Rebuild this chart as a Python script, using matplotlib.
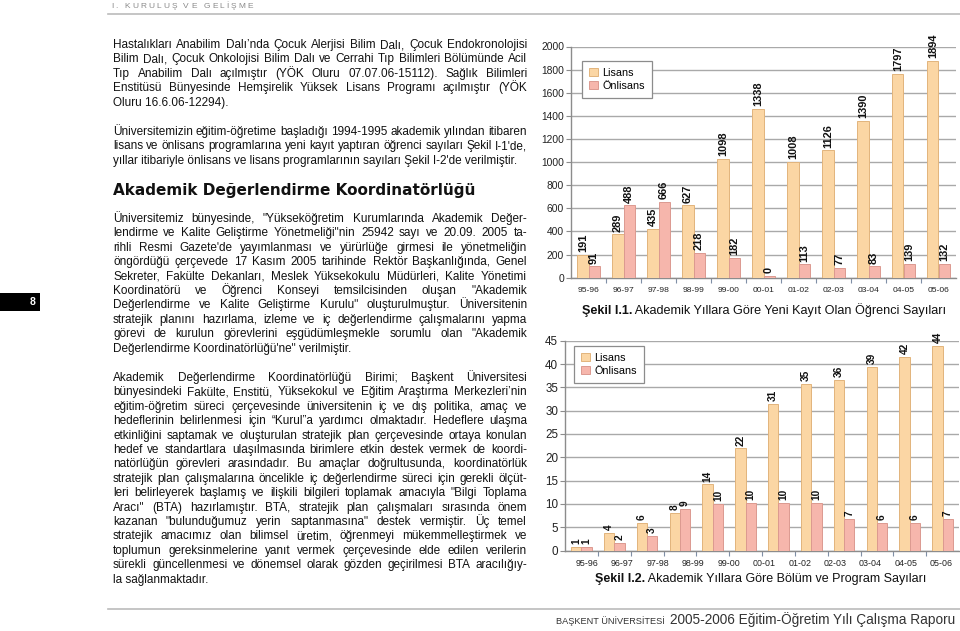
import numpy as np
import matplotlib
matplotlib.use('Agg')
import matplotlib.pyplot as plt
from matplotlib.font_manager import FontProperties
from matplotlib.patches import Rectangle
from matplotlib.lines import Line2D

W, H = 960, 631
plt.rcParams['font.family'] = ['Liberation Sans', 'DejaVu Sans']

# ---------------- data ----------------
years = ['95-96', '96-97', '97-98', '98-99', '99-00', '00-01',
         '01-02', '02-03', '03-04', '04-05', '05-06']

# Figure I.1 (bar heights as drawn, labels as printed)
lisans_h1 = [199, 375, 424, 626, 1030, 1463, 1002, 1102, 1357, 1766, 1873]
onlisans_h1 = [98, 626, 655, 216, 170, 14, 115, 84, 98, 121, 121]
lisans_lbl1 = ['191', '289', '435', '627', '1098', '1338', '1008', '1126', '1390', '1797', '1894']
onlisans_lbl1 = ['91', '488', '666', '218', '182', '0', '113', '77', '83', '139', '132']

# Figure I.2 (12 bar groups, 11 axis labels)
lisans_h2 = [0.72, 3.7, 5.95, 8.0, 14.2, 21.9, 31.4, 35.7, 36.6, 39.3, 41.6, 43.9]
onlisans_h2 = [0.72, 1.65, 3.2, 8.96, 10.0, 10.2, 10.2, 10.2, 6.8, 5.9, 5.9, 6.7]
lisans_lbl2 = ['1', '4', '6', '8', '14', '22', '31', '35', '36', '39', '42', '44']
onlisans_lbl2 = ['1', '2', '3', '9', '10', '10', '10', '10', '7', '6', '6', '7']

series_names = ['Lisans', 'Önlisans']
caption1 = ('Şekil I.1.', ' Akademik Yıllara Göre Yeni Kayıt Olan Öğrenci Sayıları')
caption2 = ('Şekil I.2.', ' Akademik Yıllara Göre Bölüm ve Program Sayıları')

header = 'I. KURULUŞ VE GELİŞME'
heading = 'Akademik Değerlendirme Koordinatörlüğü'
footer_small = 'BAŞKENT ÜNİVERSİTESİ'
footer_big = '2005-2006 Eğitim-Öğretim Yılı Çalışma Raporu'
page_no = '8'

par1 = [
    "Hastalıkları Anabilim Dalı’nda Çocuk Alerjisi Bilim Dalı, Çocuk Endokronolojisi",
    "Bilim Dalı, Çocuk Onkolojisi Bilim Dalı ve Cerrahi Tıp Bilimleri Bölümünde Acil",
    "Tıp Anabilim Dalı açılmıştır (YÖK Oluru 07.07.06-15112). Sağlık Bilimleri",
    "Enstitüsü Bünyesinde Hemşirelik Yüksek Lisans Programı açılmıştır (YÖK",
    "Oluru 16.6.06-12294).",
]
par2 = [
    "Üniversitemizin eğitim-öğretime başladığı 1994-1995 akademik yılından itibaren",
    "lisans ve önlisans programlarına yeni kayıt yaptıran öğrenci sayıları Şekil I-1'de,",
    "yıllar itibariyle önlisans ve lisans programlarının sayıları Şekil I-2'de verilmiştir.",
]
par3 = [
    "Üniversitemiz bünyesinde, \"Yükseköğretim Kurumlarında Akademik Değer-",
    "lendirme ve Kalite Geliştirme Yönetmeliği\"nin 25942 sayı ve 20.09. 2005 ta-",
    "rihli Resmi Gazete'de yayımlanması ve yürürlüğe girmesi ile yönetmeliğin",
    "öngördüğü çerçevede 17 Kasım 2005 tarihinde Rektör Başkanlığında, Genel",
    "Sekreter, Fakülte Dekanları, Meslek Yüksekokulu Müdürleri, Kalite Yönetimi",
    "Koordinatörü ve Öğrenci Konseyi temsilcisinden oluşan \"Akademik",
    "Değerlendirme ve Kalite Geliştirme Kurulu\" oluşturulmuştur. Üniversitenin",
    "stratejik planını hazırlama, izleme ve iç değerlendirme çalışmalarını yapma",
    "görevi de kurulun görevlerini eşgüdümleşmekle sorumlu olan \"Akademik",
    "Değerlendirme Koordinatörlüğü'ne\" verilmiştir.",
]
par4 = [
    "Akademik Değerlendirme Koordinatörlüğü Birimi; Başkent Üniversitesi",
    "bünyesindeki Fakülte, Enstitü, Yüksekokul ve Eğitim Araştırma Merkezleri’nin",
    "eğitim-öğretim süreci çerçevesinde üniversitenin iç ve dış politika, amaç ve",
    "hedeflerinin belirlenmesi için “Kurul”a yardımcı olmaktadır. Hedeflere ulaşma",
    "etkinliğini saptamak ve oluşturulan stratejik plan çerçevesinde ortaya konulan",
    "hedef ve standartlara ulaşılmasında birimlere etkin destek vermek de koordi-",
    "natörlüğün görevleri arasındadır. Bu amaçlar doğrultusunda, koordinatörlük",
    "stratejik plan çalışmalarına öncelikle iç değerlendirme süreci için gerekli ölçüt-",
    "leri belirleyerek başlamış ve ilişkili bilgileri toplamak amacıyla \"Bilgi Toplama",
    "Aracı\" (BTA) hazırlamıştır. BTA, stratejik plan çalışmaları sırasında önem",
    "kazanan \"bulunduğumuz yerin saptanmasına\" destek vermiştir. Üç temel",
    "stratejik amacımız olan bilimsel üretim, öğrenmeyi mükemmelleştirmek ve",
    "toplumun gereksinmelerine yanıt vermek çerçevesinde elde edilen verilerin",
    "sürekli güncellenmesi ve dönemsel olarak gözden geçirilmesi BTA aracılığıy-",
    "la sağlanmaktadır.",
]

# ---------------- style ----------------
LIS, LIS_E = '#FBD6A4', '#E2B47C'
ONL, ONL_E = '#F6B6AC', '#DC9A90'
GRID = '#A9A9A9'
TXT = '#111111'

fig = plt.figure(figsize=(W / 100, H / 100), dpi=100)
fig.patch.set_facecolor('white')
renderer = fig.canvas.get_renderer()


def fx(x):
    return x / W


def fy(y):
    return 1 - y / H


def tw(s, prop):
    return renderer.get_text_width_height_descent(s, prop, ismath=False)[0]


# ---------------- page furniture ----------------
fig.add_artist(Line2D([fx(108), fx(960)], [fy(13.5), fy(13.5)], color='#BBBBBB', lw=1.2))
fig.add_artist(Line2D([fx(108), fx(960)], [fy(608.5), fy(608.5)], color='#BBBBBB', lw=1.2))

# tracked header
hp = FontProperties(family='Liberation Sans', size=6.0)
chars = list(header)
cw = [tw(c, hp) if c != ' ' else 0.278 * 6.0 * 100 / 72 for c in chars]
x0h, x1h = 111, 253
extra = (x1h - x0h - sum(cw)) / (len(chars) - 1)
xx = x0h
for c, w in zip(chars, cw):
    if c != ' ':
        fig.text(fx(xx), fy(8), c, fontproperties=hp, color='#8A8A8A', va='baseline', ha='left')
    xx += w + extra

# page number box
fig.add_artist(Rectangle((fx(0), fy(311)), fx(40), 18 / H, transform=fig.transFigure,
                         facecolor='black', edgecolor='none'))
fig.text(fx(33), fy(302), page_no, color='white', fontsize=7.5, fontweight='bold',
         ha='center', va='center')

# footer
fs_small = FontProperties(family='Liberation Sans', size=6.6)
fs_big = FontProperties(family='Liberation Sans', size=9.8)
w_small = tw(footer_small + ' ', fs_small)
w_big = tw(footer_big, fs_big)
xs = 955 - w_big - w_small - 3
fig.text(fx(xs), fy(624), footer_small, fontproperties=fs_small, color='#333333', va='baseline')
fig.text(fx(xs + w_small + 3), fy(624), footer_big, fontproperties=fs_big, color='#333333', va='baseline')

# ---------------- body text ----------------
X0, X1 = 113, 527
probe = FontProperties(family='Liberation Sans', size=10)
allpars = [par1, par2, par3, par4]
maxw = max(tw(l, probe) for p in allpars for l in p[:-1])
BODY = 10 * (X1 - X0) * 1.012 / maxw
bp = FontProperties(family='Liberation Sans', size=BODY)


def draw_par(lines, y0, lead):
    for i, line in enumerate(lines):
        y = y0 + i * lead
        words = line.split(' ')
        if i == len(lines) - 1 or len(words) == 1:
            fig.text(fx(X0), fy(y), line, fontproperties=bp, color=TXT, va='baseline', ha='left')
            continue
        ws = [tw(w, bp) for w in words]
        gap = (X1 - X0 - sum(ws)) / (len(words) - 1)
        x = X0
        for w, wd in zip(words, ws):
            fig.text(fx(x), fy(y), w, fontproperties=bp, color=TXT, va='baseline', ha='left')
            x += wd + gap


LEAD = 14.4
draw_par(par1, 48, LEAD)
draw_par(par2, 135, LEAD)
hprobe = FontProperties(family='DejaVu Sans', weight='heavy', size=10)
HS = 10 * (476 - 113) / tw(heading, hprobe)
fig.text(fx(113), fy(195), heading, family='DejaVu Sans', fontweight='heavy', fontsize=HS,
         color=TXT, va='baseline', ha='left')
draw_par(par3, 222, LEAD)
draw_par(par4, 381, LEAD)


# ---------------- charts ----------------
def caption(parts, x, y, width):
    p_b = FontProperties(family='Liberation Sans', weight='bold', size=10)
    p_r = FontProperties(family='Liberation Sans', size=10)
    tot = tw(parts[0], p_b) + tw(parts[1], p_r)
    s = 10 * width / tot
    p_b = FontProperties(family='Liberation Sans', weight='bold', size=s)
    p_r = FontProperties(family='Liberation Sans', size=s)
    fig.text(fx(x), fy(y), parts[0], fontproperties=p_b, color=TXT, va='baseline')
    fig.text(fx(x + tw(parts[0], p_b)), fy(y), parts[1], fontproperties=p_r, color=TXT, va='baseline')


def chart(box, lis_h, onl_h, lis_lbl, onl_lbl, ymax, ystep, label_pos, ytick_fs, xtick_fs,
          val_fs, xpad, legend_xy):
    l, t, r, b = box
    ax = fig.add_axes([fx(l), fy(b), (r - l) / W, (b - t) / H])
    n = len(lis_h)
    x = np.arange(n)
    bw = 0.315
    bl = ax.bar(x - bw / 2, lis_h, bw, color=LIS, edgecolor=LIS_E, lw=0.7, zorder=3, label=series_names[0])
    bo = ax.bar(x + bw / 2, onl_h, bw, color=ONL, edgecolor=ONL_E, lw=0.7, zorder=3, label=series_names[1])
    ax.set_xlim(-0.5, n - 0.5)
    ax.set_ylim(0, ymax)
    ax.set_yticks(np.arange(0, ymax + 0.1, ystep))
    ax.yaxis.grid(True, color=GRID, lw=1.0, zorder=0)
    ax.set_axisbelow(True)
    for s in ['top', 'right']:
        ax.spines[s].set_visible(False)
    ax.spines['left'].set_color('#8C8C8C')
    ax.spines['bottom'].set_color('#8C8C8C')
    ax.spines['left'].set_linewidth(1.0)
    ax.spines['bottom'].set_linewidth(1.0)
    ax.set_facecolor('none')
    ax.tick_params(axis='y', length=3.5, width=0.8, color='#8C8C8C', pad=1.5,
                   labelsize=ytick_fs, labelcolor='#222222')
    ax.set_xticks(np.arange(0.5, n - 0.5, 1.0))
    ax.set_xticklabels([])
    ax.tick_params(axis='x', which='major', length=3.5, width=0.8, color='#7F8FA6')
    ax.set_xticks(label_pos, minor=True)
    ax.set_xticklabels(years, minor=True)
    ax.tick_params(axis='x', which='minor', length=0, pad=xpad, labelsize=xtick_fs,
                   labelcolor='#222222')
    for xi, h, lb in zip(x - bw / 2, lis_h, lis_lbl):
        ax.annotate(lb, (xi, h), xytext=(0, 2), textcoords='offset points', rotation=90,
                    ha='center', va='bottom', fontsize=val_fs, fontweight='bold',
                    color='#111111', annotation_clip=False)
    for xi, h, lb in zip(x + bw / 2, onl_h, onl_lbl):
        ax.annotate(lb, (xi, h), xytext=(0, 2), textcoords='offset points', rotation=90,
                    ha='center', va='bottom', fontsize=val_fs, fontweight='bold',
                    color='#111111', annotation_clip=False)
    leg = ax.legend(handles=[bl, bo], loc='upper left',
                    bbox_to_anchor=(fx(legend_xy[0]), fy(legend_xy[1])),
                    bbox_transform=fig.transFigure, fontsize=7.8, frameon=True,
                    fancybox=False, edgecolor='#8C8C8C', framealpha=1,
                    handlelength=0.8, handleheight=0.8, handletextpad=0.4,
                    labelspacing=0.25, borderpad=0.65, borderaxespad=0)
    leg.get_frame().set_linewidth(0.9)
    return ax


chart((571, 46.5, 956, 277.7), lisans_h1, onlisans_h1, lisans_lbl1, onlisans_lbl1,
      2000, 200, np.arange(len(years)), 7.4, 6.1, 7.9, 7.0, (582, 61))
caption(caption1, 582, 314, 366)

chart((565, 340.7, 959, 550.5), lisans_h2, onlisans_h2, lisans_lbl2, onlisans_lbl2,
      45, 5, np.linspace(0.16, 10.97, len(years)), 8.4, 6.4, 7.3, 6.0, (574, 346))
caption(caption2, 595, 582, 334)

fig.savefig('out.png', dpi=100, facecolor='white')
